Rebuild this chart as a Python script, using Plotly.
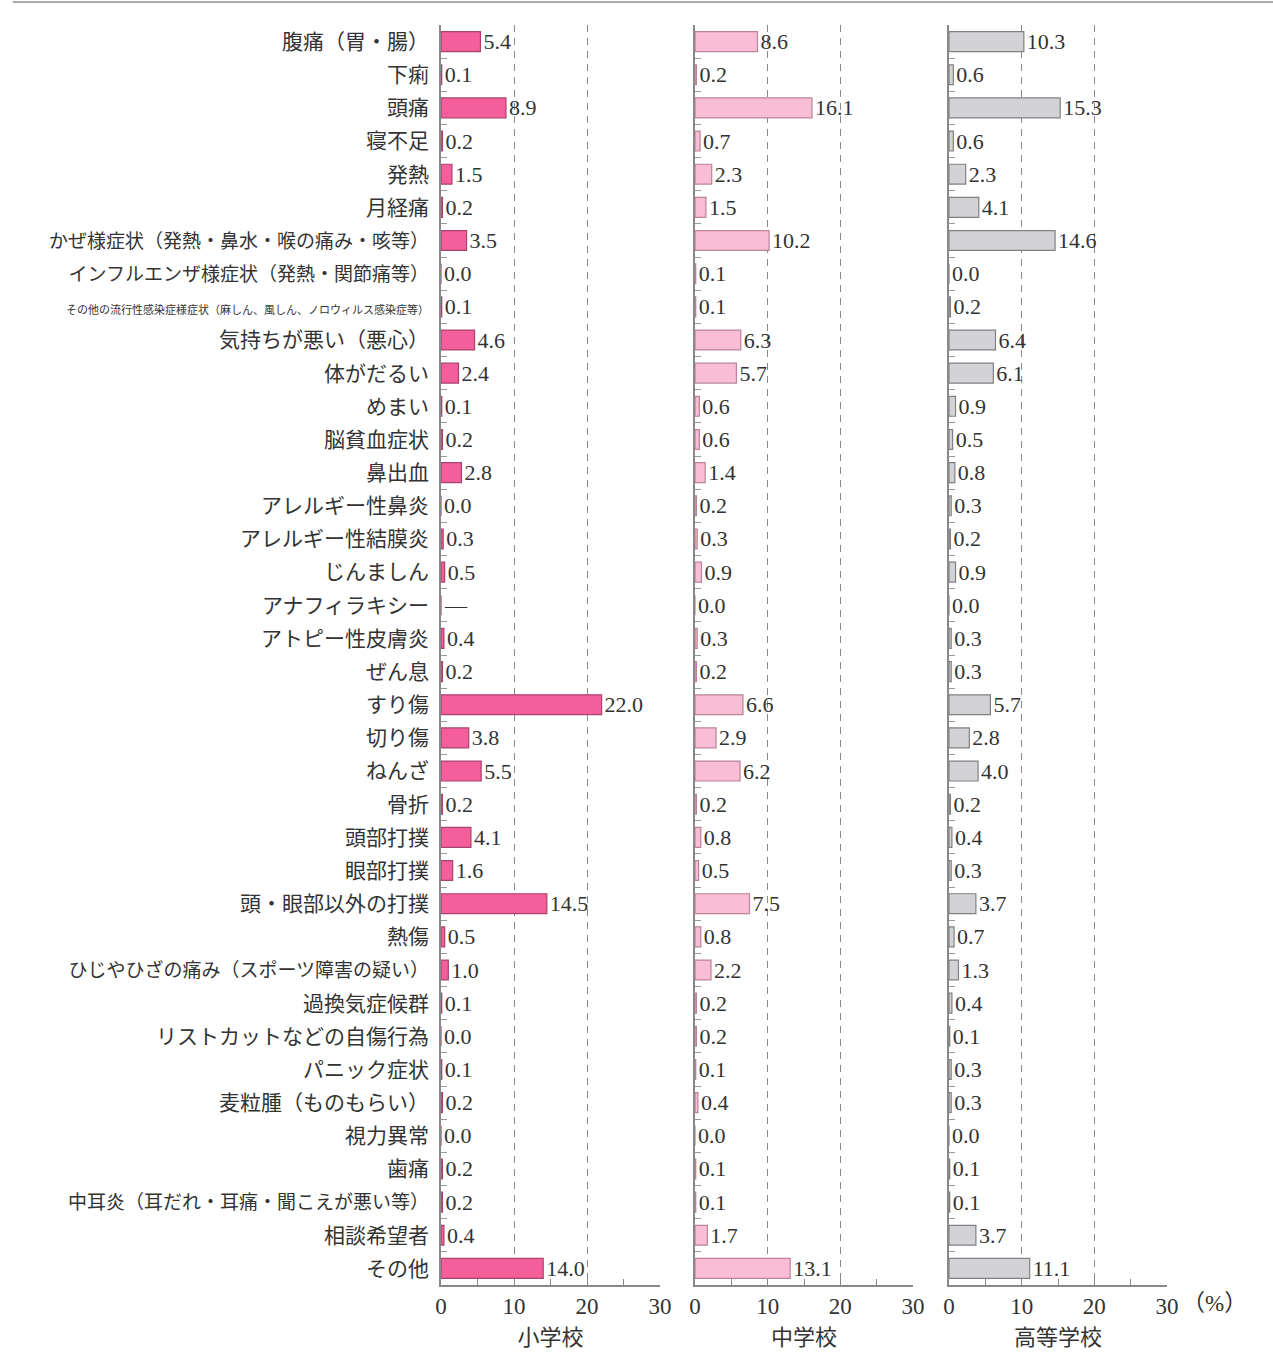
import plotly.graph_objects as go

categories = [
    "腹痛（胃・腸）", "下痢", "頭痛", "寝不足", "発熱", "月経痛",
    "かぜ様症状（発熱・鼻水・喉の痛み・咳等）",
    "インフルエンザ様症状（発熱・関節痛等）",
    "その他の流行性感染症様症状（麻しん、風しん、ノロウィルス感染症等）",
    "気持ちが悪い（悪心）", "体がだるい", "めまい", "脳貧血症状", "鼻出血",
    "アレルギー性鼻炎", "アレルギー性結膜炎", "じんましん", "アナフィラキシー",
    "アトピー性皮膚炎", "ぜん息", "すり傷", "切り傷", "ねんざ", "骨折",
    "頭部打撲", "眼部打撲", "頭・眼部以外の打撲", "熱傷",
    "ひじやひざの痛み（スポーツ障害の疑い）", "過換気症候群",
    "リストカットなどの自傷行為", "パニック症状", "麦粒腫（ものもらい）",
    "視力異常", "歯痛", "中耳炎（耳だれ・耳痛・聞こえが悪い等）",
    "相談希望者", "その他",
]

elementary = [5.4, 0.1, 8.9, 0.2, 1.5, 0.2, 3.5, 0.0, 0.1, 4.6, 2.4, 0.1, 0.2, 2.8,
              0.0, 0.3, 0.5, None, 0.4, 0.2, 22.0, 3.8, 5.5, 0.2, 4.1, 1.6, 14.5,
              0.5, 1.0, 0.1, 0.0, 0.1, 0.2, 0.0, 0.2, 0.2, 0.4, 14.0]
junior_high = [8.6, 0.2, 16.1, 0.7, 2.3, 1.5, 10.2, 0.1, 0.1, 6.3, 5.7, 0.6, 0.6, 1.4,
               0.2, 0.3, 0.9, 0.0, 0.3, 0.2, 6.6, 2.9, 6.2, 0.2, 0.8, 0.5, 7.5,
               0.8, 2.2, 0.2, 0.2, 0.1, 0.4, 0.0, 0.1, 0.1, 1.7, 13.1]
high_school = [10.3, 0.6, 15.3, 0.6, 2.3, 4.1, 14.6, 0.0, 0.2, 6.4, 6.1, 0.9, 0.5, 0.8,
               0.3, 0.2, 0.9, 0.0, 0.3, 0.3, 5.7, 2.8, 4.0, 0.2, 0.4, 0.3, 3.7,
               0.7, 1.3, 0.4, 0.1, 0.3, 0.3, 0.0, 0.1, 0.1, 3.7, 11.1]

panel_titles = ["小学校", "中学校", "高等学校"]
x_ticks = [0, 10, 20, 30]
unit_label = "（%）"

fill_colors = ["#f35e9b", "#f9bdd5", "#d3d3d7"]
line_colors = ["#a8446f", "#bb8399", "#808080"]

W, H = 1273, 1372
# page-pixel layout
panel_px = [(441, 660), (695, 913), (949, 1167)]
top_px, bottom_px = 25, 1285

SERIF = "Liberation Serif, Noto Sans CJK JP, serif"
JP = "Noto Sans CJK JP, sans-serif"


def tick_text(label):
    n = len(label)
    if n > 25:
        return f'<span style="font-size:11px">{label}</span>'
    if n >= 17:
        return f'<span style="font-size:19px">{label}</span>'
    return label


fig = go.Figure()
series = [elementary, junior_high, high_school]
for i, vals in enumerate(series):
    xs = [v if v is not None else 0 for v in vals]
    texts = [f"{v:.1f}" if v is not None else "—" for v in vals]
    ax = "" if i == 0 else str(i + 1)
    fig.add_trace(go.Bar(
        x=xs, y=categories, orientation="h",
        marker=dict(color=fill_colors[i], line=dict(color=line_colors[i], width=1.2)),
        text=texts, textposition="outside", cliponaxis=False, constraintext="none",
        textfont=dict(family=SERIF, size=22, color="#333"),
        xaxis="x" + ax, yaxis="y" + ax, showlegend=False,
        hoverinfo="skip",
    ))

layout = dict(
    template="none",
    width=W, height=H, autosize=False,
    margin=dict(l=0, r=0, t=top_px, b=H - bottom_px, pad=0, autoexpand=False),
    paper_bgcolor="white", plot_bgcolor="white",
    bargap=0.4,
    font=dict(family=SERIF, color="#333"),
)

for i in range(3):
    ax = "" if i == 0 else str(i + 1)
    x0, x1 = panel_px[i]
    layout["xaxis" + ax] = dict(
        domain=[x0 / W, x1 / W], range=[0, 30],
        anchor="y" + ax, automargin=False,
        tickvals=x_ticks, ticktext=[str(t) for t in x_ticks],
        ticks="inside", ticklen=6, tickcolor="#888", tickwidth=1.2,
        minor=dict(dtick=5, tick0=0, ticks="inside", ticklen=6, tickcolor="#888", showgrid=False),
        showgrid=True, griddash="7px,6px", gridcolor="#8a8a8a", gridwidth=1,
        zeroline=False,
        showline=True, linecolor="#888", linewidth=1.5,
        tickfont=dict(family=SERIF, size=23, color="#333"),
        title=dict(text=panel_titles[i], font=dict(family=JP, size=22, color="#333"), standoff=6),
        fixedrange=True,
    )
    layout["yaxis" + ax] = dict(
        domain=[0, 1], anchor="x" + ax, automargin=False,
        type="category", categoryorder="array", categoryarray=categories,
        autorange="reversed",
        tickson="boundaries", ticks="inside", ticklen=6, tickcolor="#999", tickwidth=1,
        showline=True, linecolor="#888", linewidth=1.5,
        showgrid=False, zeroline=False,
        showticklabels=(i == 0),
        tickvals=categories, ticktext=[tick_text(c) for c in categories],
        tickfont=dict(family=JP, size=21, color="#333"),
        ticklabelstandoff=6,
        fixedrange=True,
    )

fig.update_layout(**layout)

# unit label after the last tick of the third panel
fig.add_annotation(
    x=30, xref="x3", y=-(1303 - bottom_px) / (bottom_px - top_px), yref="paper",
    text=unit_label, showarrow=False, xanchor="left", yanchor="middle",
    xshift=13, font=dict(family=SERIF, size=23, color="#333"),
)

# top rule
rule_y = 1 + (top_px - 2) / (bottom_px - top_px)
fig.add_shape(type="line", xref="paper", yref="paper", x0=0.01, x1=1,
              y0=rule_y, y1=rule_y,
              line=dict(color="#aaaaaa", width=2))

fig.write_html(
    "out.html",
    config={"displayModeBar": False, "responsive": False},
    post_script="document.body.style.margin='0';document.body.style.overflow='hidden';",
)
